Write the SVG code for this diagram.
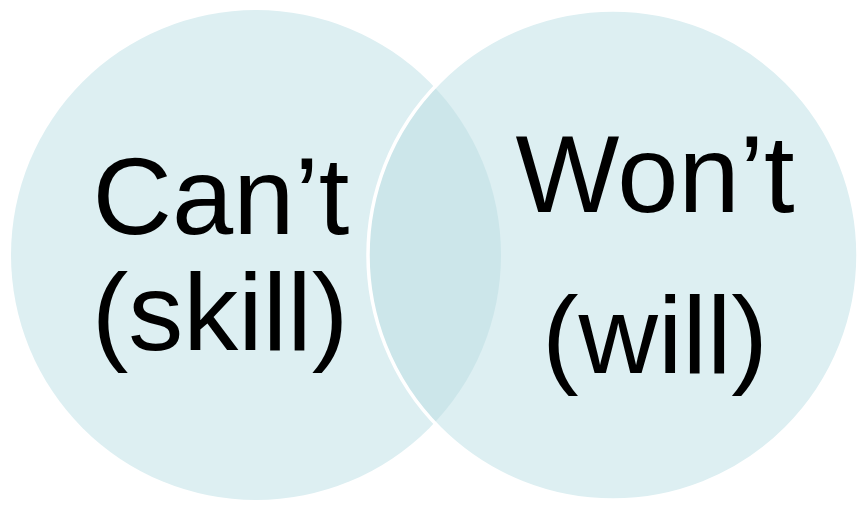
<svg xmlns="http://www.w3.org/2000/svg" width="858" height="509" viewBox="0 0 858 509">
<style>
.c{fill:#DDEFF2}
.s{fill:none;stroke:#FFFFFF;stroke-width:3.5}
.t{font-family:"Liberation Sans",Arial,sans-serif;font-size:110px;fill:#000000;text-anchor:middle}
</style>
<defs>
<clipPath id="rc"><circle cx="613" cy="255" r="245"/></clipPath>
</defs>
<g id="cant">
<circle class="c" cx="256" cy="255" r="245"/>
</g>
<g id="wont">
<circle class="c" cx="613" cy="255" r="245"/>
</g>
<g id="overlap">
<circle cx="256" cy="255" r="245" fill="#CCE6EA" clip-path="url(#rc)"/>
<circle class="s" cx="613" cy="255" r="245"/>
</g>
<g id="labels">
<text class="t" x="221" y="234">Can’t</text>
<text class="t" x="220" y="350">(skill)</text>
<text class="t" x="655" y="212">Won’t</text>
<text class="t" x="655" y="373">(will)</text>
</g>
</svg>
